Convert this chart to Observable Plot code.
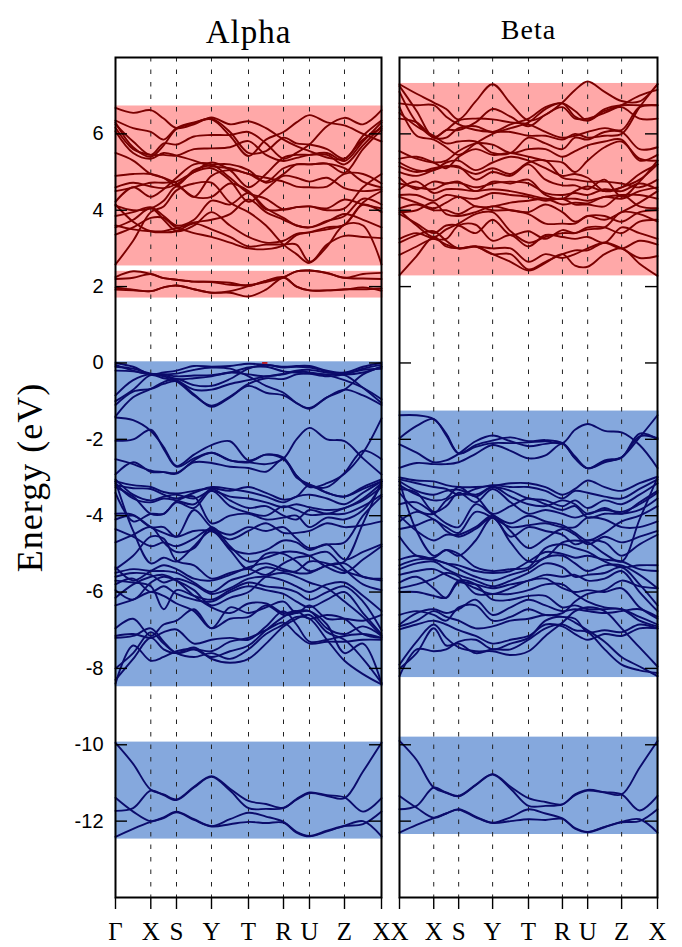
<!DOCTYPE html>
<html><head><meta charset="utf-8">
<script src="https://cdn.jsdelivr.net/npm/d3@7"></script>
<script src="https://cdn.jsdelivr.net/npm/@observablehq/plot@0.6"></script>
<style>html,body{margin:0;padding:0;background:#fff}#chart{position:relative;width:682px;height:947px}#chart svg{position:absolute;top:0;overflow:visible}.spaced text{letter-spacing:1px}</style>
</head><body><div id="chart"></div>
<script>
const kLabelsAlpha = ["Γ","X","S","Y","T","R","U","Z","X"];
const kLabelsBeta = ["X","X","S","Y","T","R","U","Z","X"];
const kPath = [0,0.1327,0.2293,0.3609,0.5,0.6316,0.7293,0.8609,1];
const energyTicks = [-12,-10,-8,-6,-4,-2,0,2,4,6];

const alphaWindows = [[2.54,6.73,"c"],[1.7,2.4,"c"],[-8.48,0.03,"v"],[-12.47,-9.93,"v"]];
const betaWindows = [[2.28,7.32,"c"],[-8.24,-1.26,"v"],[-12.35,-9.8,"v"]];

const alphaConduction = [
[6.68,6.55,6.62,6.40,6.15,6.25,6.43,6.25,6.33,6.15,5.85,5.68,5.55,5.38,5.35,5.85,6.15],
[6.35,6.15,6.05,5.85,6.15,6.30,6.38,5.95,5.42,5.85,6.05,6.30,6.49,6.30,6.22,6.00,5.80],
[6.25,5.80,5.45,5.75,5.72,5.93,5.97,5.97,6.05,5.75,5.35,5.50,5.72,6.20,6.42,6.25,6.62],
[6.16,5.60,5.45,5.45,5.43,5.60,5.62,5.65,5.81,5.45,5.29,5.37,5.45,5.50,5.29,5.80,6.30],
[6.07,5.50,5.35,5.50,5.43,5.30,5.15,5.10,4.95,4.85,4.75,4.62,4.60,4.62,4.95,4.95,4.70],
[6.30,5.65,5.40,5.70,6.13,6.28,6.40,6.05,5.50,5.55,5.90,5.75,5.72,5.60,5.35,5.95,6.35],
[5.50,5.30,4.95,4.85,4.70,4.35,4.90,5.05,4.95,4.75,5.10,5.20,5.20,5.22,5.10,4.75,4.60],
[4.90,4.95,4.95,4.85,4.65,5.05,5.18,5.20,5.05,4.72,4.95,5.20,5.20,5.22,4.98,5.60,6.10],
[4.60,4.72,4.62,4.58,4.68,5.00,5.25,5.05,4.60,4.95,5.38,5.45,5.45,5.45,5.20,5.70,6.20],
[4.50,4.60,4.72,4.72,4.75,5.00,5.10,4.78,4.22,4.55,4.90,4.85,4.75,4.85,4.58,4.50,4.55],
[4.22,4.60,4.35,4.55,4.85,5.20,5.20,4.85,4.45,4.30,4.02,4.08,4.10,4.00,4.05,4.60,4.95],
[4.12,4.00,4.05,4.25,4.62,4.35,4.35,4.70,4.50,4.02,4.02,4.08,4.10,4.05,4.28,4.15,4.05],
[3.85,3.95,4.08,3.85,3.60,3.75,4.25,4.15,4.45,4.05,3.80,3.60,3.55,3.70,3.90,3.75,3.55],
[3.55,3.75,4.05,3.75,3.45,3.60,3.95,3.60,3.30,3.15,3.20,3.38,3.42,3.55,3.62,4.20,4.50],
[3.36,3.55,3.80,3.80,3.55,3.68,3.75,3.90,4.28,3.95,3.75,3.60,3.55,3.72,3.85,4.30,4.15],
[2.58,3.20,3.95,4.10,4.52,4.70,4.72,4.20,3.95,3.60,3.10,2.85,2.62,3.10,3.33,3.30,3.27],
[4.15,3.70,3.45,3.42,3.45,3.65,3.50,3.30,3.05,3.10,3.10,3.10,2.65,3.05,3.62,3.60,2.58],
[3.60,3.50,3.45,3.45,3.52,3.40,3.30,3.15,3.00,2.98,3.08,3.35,3.42,3.50,3.62,4.15,3.95],
[2.25,2.40,2.33,2.22,2.18,2.13,2.13,2.10,2.02,2.15,2.25,2.40,2.42,2.36,2.23,2.33,2.36],
[2.20,2.23,2.33,2.22,2.18,2.13,2.12,2.05,2.04,2.12,2.24,2.40,2.42,2.35,2.23,2.21,2.20],
[1.97,1.92,1.88,1.98,2.03,1.93,1.84,1.88,2.01,2.15,2.25,2.00,1.90,1.90,1.93,1.93,1.95],
[1.92,1.90,1.88,1.98,2.03,1.93,1.84,1.84,1.74,1.92,2.23,2.00,1.90,1.90,1.92,1.98,1.89]
];
const alphaValence = [
[0,-0.10,-0.30,-0.25,-0.20,-0.08,-0.10,-0.08,-0.02,-0.05,-0.10,-0.08,-0.08,-0.20,-0.25,-0.10,0],
[-0.05,-0.20,-0.30,-0.30,-0.35,-0.33,-0.32,-0.25,-0.12,-0.10,-0.22,-0.25,-0.28,-0.35,-0.30,-0.15,-0.05],
[-1.10,-0.75,-0.68,-0.55,-0.48,-0.82,-1.15,-0.90,-0.60,-0.78,-0.85,-1.05,-1.20,-0.90,-0.70,-0.85,-1.10],
[-1.00,-0.70,-0.32,-0.40,-0.48,-0.85,-1.12,-0.88,-0.55,-0.40,-0.42,-0.30,-0.28,-0.30,-0.32,-0.65,-1.05],
[-0.85,-0.45,-0.30,-0.35,-0.45,-0.70,-0.70,-0.55,-0.45,-0.35,-0.30,-0.22,-0.25,-0.32,-0.45,-0.65,-0.95],
[-1.40,-0.90,-0.68,-0.50,-0.42,-0.58,-0.60,-0.42,-0.15,-0.05,-0.12,-0.10,-0.12,-0.22,-0.30,-0.25,-0.10],
[-0.10,-0.15,-0.28,-0.30,-0.28,-0.18,-0.12,-0.15,-0.35,-0.60,-0.78,-1.05,-1.18,-0.90,-0.70,-0.30,-0.10],
[-0.20,-0.22,-0.30,-0.32,-0.42,-0.40,-0.35,-0.25,-0.30,-0.35,-0.28,-0.20,-0.18,-0.25,-0.28,-0.18,-0.15],
[-1.43,-1.50,-1.78,-2.20,-2.70,-2.40,-2.15,-2.05,-2.55,-2.40,-2.48,-3.00,-3.18,-3.40,-3.50,-3.30,-3.10],
[-2.04,-2.00,-1.75,-2.25,-2.72,-2.50,-2.35,-2.55,-2.60,-2.65,-2.50,-2.00,-1.70,-2.00,-2.05,-2.50,-2.92],
[-2.52,-2.65,-2.82,-2.86,-2.90,-2.55,-2.35,-2.55,-2.60,-2.40,-2.52,-2.95,-3.22,-3.25,-2.88,-2.30,-2.52],
[-2.92,-2.60,-2.85,-2.86,-2.88,-2.60,-2.62,-2.72,-2.75,-2.85,-2.52,-2.95,-3.25,-3.15,-2.90,-2.35,-1.45],
[-3.10,-3.20,-3.25,-3.38,-3.42,-3.35,-3.28,-3.35,-3.25,-3.40,-3.58,-3.50,-3.20,-3.40,-3.50,-3.25,-3.05],
[-3.20,-3.28,-3.30,-3.45,-3.55,-3.40,-3.25,-3.30,-3.38,-3.50,-3.65,-3.50,-3.45,-3.55,-3.70,-3.40,-3.10],
[-3.05,-3.45,-3.60,-3.50,-3.45,-3.55,-3.35,-3.50,-3.55,-3.65,-3.78,-3.70,-3.78,-3.85,-3.80,-3.55,-3.15],
[-3.15,-3.55,-3.65,-3.55,-3.60,-3.70,-3.30,-3.60,-3.80,-3.75,-4.00,-4.10,-3.85,-3.95,-3.80,-3.60,-3.25],
[-3.25,-3.50,-3.95,-3.95,-3.65,-3.80,-3.35,-3.75,-3.92,-4.00,-3.75,-3.85,-3.98,-3.95,-3.95,-3.75,-3.45],
[-3.40,-4.15,-3.95,-3.95,-3.62,-3.50,-4.20,-4.00,-3.95,-4.10,-4.05,-4.00,-4.30,-4.05,-4.10,-3.85,-3.20],
[-3.95,-3.98,-4.30,-4.30,-4.55,-3.85,-4.30,-4.50,-4.30,-4.40,-4.30,-4.60,-4.85,-4.75,-4.70,-4.00,-3.50],
[-4.10,-4.00,-4.30,-4.45,-4.55,-4.40,-4.40,-4.62,-4.40,-4.20,-4.45,-4.45,-4.40,-4.20,-4.30,-4.25,-4.15],
[-4.35,-4.55,-4.80,-4.70,-4.80,-4.60,-4.35,-4.85,-5.00,-4.90,-4.65,-4.70,-4.90,-4.75,-5.15,-4.95,-4.75],
[-4.70,-4.50,-4.30,-4.70,-4.95,-4.85,-4.30,-4.80,-5.20,-5.10,-4.95,-4.95,-5.05,-5.35,-5.50,-5.15,-4.80],
[-3.10,-4.40,-5.25,-5.10,-5.20,-4.80,-4.40,-4.90,-5.40,-5.00,-5.00,-5.20,-5.45,-5.30,-5.20,-4.20,-3.10],
[-5.40,-5.05,-4.55,-4.60,-5.18,-5.30,-5.65,-5.50,-5.40,-5.55,-5.25,-5.10,-5.05,-4.95,-5.40,-5.80,-5.95],
[-5.35,-5.70,-5.45,-5.30,-5.40,-5.65,-5.70,-5.55,-5.35,-5.25,-5.40,-5.50,-5.50,-5.30,-5.25,-5.60,-5.65],
[-5.50,-5.40,-5.45,-5.45,-5.50,-5.75,-6.00,-5.70,-5.55,-5.35,-5.45,-5.45,-5.20,-5.25,-5.45,-5.60,-5.70],
[-5.60,-5.50,-5.55,-5.75,-5.65,-5.80,-6.05,-5.90,-5.65,-5.60,-5.70,-5.85,-6.00,-5.80,-5.75,-6.10,-6.50],
[-5.70,-5.75,-5.85,-6.45,-5.95,-6.10,-6.20,-5.95,-5.75,-5.85,-5.90,-6.00,-6.20,-6.00,-5.85,-6.25,-7.00],
[-5.80,-5.65,-6.00,-5.85,-6.05,-6.20,-6.25,-6.00,-5.85,-5.95,-6.05,-6.25,-6.40,-6.20,-6.00,-6.55,-7.10],
[-5.95,-6.20,-5.75,-5.60,-5.70,-5.95,-6.35,-6.15,-6.00,-5.60,-5.50,-5.60,-5.75,-5.90,-6.25,-6.65,-7.15],
[-6.15,-5.80,-5.60,-5.55,-5.70,-6.10,-6.40,-6.55,-6.30,-6.30,-6.55,-6.50,-6.70,-6.60,-6.70,-7.10,-7.20],
[-6.35,-6.20,-6.00,-6.10,-6.30,-6.50,-6.95,-6.40,-6.55,-6.40,-6.25,-6.55,-6.35,-6.70,-6.70,-6.75,-6.60],
[-6.95,-6.70,-7.15,-6.85,-6.75,-6.45,-6.95,-6.70,-6.65,-6.35,-6.60,-6.55,-6.50,-6.95,-7.10,-6.90,-7.15],
[-7.15,-7.10,-7.20,-7.05,-6.98,-7.35,-7.25,-7.20,-7.25,-6.90,-6.50,-6.85,-7.30,-7.25,-7.15,-7.10,-7.20],
[-7.20,-7.15,-6.95,-7.30,-7.60,-7.50,-7.55,-7.30,-7.20,-7.00,-6.80,-7.10,-7.35,-7.30,-7.30,-7.25,-7.25],
[-8.40,-7.40,-7.80,-7.70,-7.55,-7.50,-7.70,-7.55,-7.40,-7.00,-6.65,-6.50,-6.50,-6.85,-7.60,-7.35,-8.40],
[-8.30,-7.75,-7.20,-7.50,-7.60,-7.45,-7.75,-7.85,-7.75,-7.35,-6.90,-6.70,-6.60,-7.05,-7.25,-7.75,-8.38],
[-8.00,-7.60,-7.05,-7.35,-7.60,-7.70,-7.60,-7.75,-7.50,-7.10,-6.85,-6.65,-6.70,-7.25,-7.80,-8.15,-8.42],
[-9.95,-10.50,-11.18,-11.30,-11.43,-11.10,-10.82,-11.15,-11.47,-11.55,-11.65,-11.42,-11.25,-11.32,-11.38,-11.75,-11.40],
[-11.73,-11.66,-11.20,-11.32,-11.45,-11.12,-10.84,-11.20,-11.66,-11.68,-11.66,-11.44,-11.27,-11.34,-11.40,-10.70,-9.95],
[-11.39,-11.75,-12.00,-11.90,-11.75,-11.95,-12.13,-11.95,-11.78,-11.88,-12.02,-12.28,-12.39,-12.25,-12.12,-12.00,-12.40],
[-12.41,-12.20,-12.02,-11.92,-11.77,-11.97,-12.14,-12.08,-12.02,-12.05,-12.04,-12.30,-12.40,-12.27,-12.13,-12.08,-11.75]
];
const betaConduction = [
[7.30,7.05,6.82,6.65,6.38,6.85,7.30,6.80,6.35,6.50,6.82,7.15,7.37,7.10,6.86,6.85,7.30],
[7.25,6.60,5.90,6.10,6.10,6.30,6.65,6.45,6.20,6.50,6.70,6.40,6.40,6.55,6.75,7.00,7.15],
[7.10,6.30,5.92,6.10,6.35,6.40,6.38,6.30,6.25,6.05,5.90,5.95,6.05,6.15,6.10,6.70,6.75],
[6.80,6.75,6.75,6.45,6.25,6.10,6.05,6.05,5.95,5.95,5.85,6.00,5.90,5.95,6.00,6.70,7.30],
[6.40,6.30,5.90,5.90,6.15,6.20,6.05,6.25,6.40,6.70,6.80,6.60,6.35,6.60,6.70,6.40,6.40],
[6.70,5.95,5.85,5.65,5.45,5.75,6.00,6.15,6.30,6.65,6.80,6.45,6.35,6.65,6.75,6.75,6.75],
[6.55,6.20,5.95,5.75,5.80,5.80,5.50,5.50,5.90,5.75,5.60,5.90,5.85,6.05,6.05,5.60,5.65],
[5.55,5.35,5.25,5.30,5.55,5.75,5.72,5.50,5.60,5.60,5.40,5.55,5.70,5.80,5.85,5.30,5.45],
[5.35,5.40,5.25,5.10,5.40,5.60,5.45,5.50,5.40,5.30,5.25,5.00,5.30,5.65,5.80,5.35,5.30],
[5.25,5.05,5.05,5.25,5.30,5.05,5.25,5.40,5.30,5.10,4.90,4.95,4.85,4.50,4.60,4.95,5.20],
[5.15,5.00,5.10,5.15,5.12,4.95,5.10,4.95,5.25,5.30,4.85,4.80,4.75,4.75,4.70,4.60,4.80],
[5.00,4.90,5.05,5.15,5.15,4.80,5.00,4.90,5.20,4.80,4.65,4.65,4.55,4.80,4.35,4.75,5.30],
[4.85,4.55,4.75,4.70,4.75,4.50,4.75,4.70,4.80,4.40,4.30,4.50,4.62,4.50,4.60,4.80,5.20],
[4.70,4.60,4.55,4.70,4.72,4.60,4.70,4.75,4.70,4.45,4.40,4.45,4.40,4.55,4.50,4.70,4.55],
[4.55,4.75,4.45,4.55,4.55,4.50,4.55,4.50,4.40,4.30,4.30,4.30,4.25,4.35,4.40,4.40,4.30],
[4.40,4.40,4.25,4.40,4.35,4.30,4.45,4.40,4.35,4.25,4.30,4.15,4.15,4.10,4.40,4.10,4.05],
[4.35,4.20,4.05,4.20,4.35,4.10,4.10,4.20,4.25,4.30,4.15,4.20,4.18,4.35,4.30,4.50,4.60],
[4.05,4.15,4.00,4.00,3.90,4.10,4.00,4.00,3.95,4.15,3.95,3.70,3.85,3.85,3.70,3.95,4.00],
[3.95,4.00,4.20,3.90,3.85,3.95,4.10,4.00,3.90,3.65,3.65,3.65,3.85,3.75,3.95,4.20,4.50],
[4.00,3.60,3.30,3.50,3.65,3.90,3.95,3.45,3.15,3.30,3.40,3.40,3.50,3.55,3.95,3.90,3.70],
[3.90,3.65,3.40,3.60,3.60,3.40,3.75,3.35,3.45,3.25,3.48,3.40,3.55,3.55,3.40,3.70,3.75],
[3.25,3.40,3.25,3.25,3.60,3.62,3.20,3.35,3.05,3.35,3.30,3.25,3.30,3.15,3.55,3.40,3.25],
[3.15,3.35,3.45,3.20,3.00,3.05,3.00,3.00,2.65,2.85,2.75,2.85,3.00,3.15,3.00,3.20,3.10],
[2.83,3.05,3.25,3.10,3.00,3.05,2.85,2.85,2.45,2.65,2.85,2.95,2.95,3.15,3.00,2.75,2.80],
[2.30,2.80,3.30,3.05,3.00,3.05,2.85,2.65,2.42,2.62,2.85,2.55,2.52,2.85,3.00,2.60,2.28]
];
const betaValence = [
[-1.37,-1.37,-1.47,-1.85,-2.37,-2.15,-2.03,-1.95,-2.05,-2.02,-2.10,-2.50,-2.76,-2.60,-2.47,-1.95,-1.37],
[-1.97,-1.65,-1.47,-1.90,-2.37,-2.20,-2.10,-2.10,-2.08,-2.05,-2.10,-1.75,-1.60,-1.78,-1.82,-2.15,-2.75],
[-2.13,-2.35,-2.60,-2.55,-2.38,-2.05,-1.90,-2.05,-2.18,-2.12,-2.10,-2.45,-2.76,-2.55,-2.47,-1.92,-1.97],
[-2.75,-2.62,-2.65,-2.65,-2.60,-2.38,-2.15,-2.30,-2.50,-2.42,-2.12,-2.50,-2.76,-2.58,-2.48,-1.85,-2.00],
[-3.00,-3.08,-3.10,-3.20,-3.25,-3.25,-3.22,-3.15,-3.15,-3.25,-3.45,-3.30,-3.08,-3.25,-3.35,-3.15,-2.98],
[-3.05,-3.15,-3.25,-3.30,-3.45,-3.30,-3.20,-3.25,-3.25,-3.35,-3.55,-3.35,-3.40,-3.50,-3.55,-3.30,-3.05],
[-3.10,-3.35,-3.45,-3.35,-3.32,-3.45,-3.25,-3.35,-3.55,-3.60,-3.75,-3.60,-3.80,-3.60,-3.70,-3.45,-3.15],
[-3.20,-3.45,-3.60,-3.55,-3.25,-3.50,-3.25,-3.50,-3.70,-3.75,-3.60,-3.70,-3.95,-3.80,-3.95,-3.65,-3.35],
[-3.30,-3.40,-3.90,-3.75,-3.40,-3.65,-3.30,-3.65,-3.95,-3.85,-3.95,-4.05,-3.95,-3.85,-3.90,-3.70,-3.40],
[-3.40,-3.85,-3.95,-3.60,-3.45,-3.50,-3.95,-3.75,-3.55,-3.70,-3.85,-3.75,-4.05,-3.95,-3.95,-3.85,-3.55],
[-3.70,-3.65,-3.95,-4.20,-4.30,-3.70,-3.98,-4.20,-4.00,-4.15,-4.25,-4.45,-4.65,-4.45,-4.15,-4.00,-3.75],
[-4.15,-3.90,-4.10,-4.30,-4.45,-3.90,-4.05,-4.30,-4.25,-4.20,-4.30,-4.30,-4.05,-4.10,-4.30,-4.30,-4.15],
[-4.00,-4.40,-4.65,-4.50,-4.50,-4.30,-4.00,-4.40,-4.85,-4.60,-4.35,-4.50,-4.75,-4.55,-4.70,-4.55,-4.40],
[-4.35,-4.25,-4.10,-4.40,-4.55,-4.35,-4.05,-4.55,-4.30,-4.40,-4.50,-4.75,-4.65,-4.70,-5.05,-4.75,-4.50],
[-3.10,-4.40,-5.05,-4.90,-5.05,-4.65,-4.05,-4.70,-5.20,-5.10,-4.70,-4.65,-4.70,-5.00,-5.20,-4.10,-3.00],
[-4.55,-5.05,-5.10,-4.90,-5.00,-5.35,-5.45,-5.40,-5.35,-4.85,-4.75,-4.85,-4.95,-5.20,-5.35,-5.30,-5.30],
[-5.15,-5.05,-5.15,-5.25,-5.30,-5.45,-5.50,-5.45,-5.20,-4.95,-5.00,-5.10,-5.05,-5.15,-5.20,-5.40,-5.45],
[-5.30,-5.15,-5.15,-5.25,-5.40,-5.60,-5.70,-5.55,-5.40,-5.10,-5.05,-5.25,-5.45,-5.30,-5.30,-5.55,-5.90],
[-5.40,-5.25,-5.20,-5.40,-5.55,-5.70,-5.85,-5.70,-5.50,-5.25,-5.35,-5.60,-5.55,-5.50,-5.35,-5.80,-6.35],
[-5.55,-5.45,-5.40,-5.55,-5.70,-5.80,-5.90,-5.80,-5.70,-5.55,-5.60,-5.55,-5.70,-5.65,-5.45,-6.00,-6.50],
[-5.75,-5.60,-5.90,-6.15,-5.75,-5.90,-6.05,-5.90,-5.70,-5.65,-5.90,-6.00,-5.95,-6.00,-5.90,-6.40,-6.70],
[-5.90,-5.80,-5.65,-5.50,-5.60,-6.05,-6.05,-6.05,-5.95,-5.80,-5.80,-6.05,-6.25,-6.40,-6.45,-6.65,-6.85],
[-6.00,-6.00,-6.10,-6.15,-5.70,-5.80,-6.20,-6.20,-6.10,-6.10,-6.40,-6.35,-6.45,-6.45,-6.45,-6.75,-6.90],
[-6.85,-6.55,-6.45,-6.55,-6.45,-6.20,-6.60,-6.40,-6.20,-6.35,-6.50,-6.45,-6.50,-6.55,-6.50,-6.45,-6.65],
[-6.60,-6.50,-6.60,-6.75,-6.40,-6.35,-6.75,-6.65,-6.45,-6.60,-6.55,-6.25,-6.05,-5.95,-5.70,-5.85,-5.90],
[-6.90,-6.75,-6.50,-6.65,-6.75,-6.95,-6.90,-6.75,-6.70,-6.60,-6.65,-6.70,-7.05,-7.00,-7.05,-6.85,-6.95],
[-6.98,-6.85,-6.75,-6.85,-7.00,-7.15,-7.35,-7.25,-7.15,-6.85,-6.90,-7.10,-7.25,-7.10,-7.15,-6.95,-6.95],
[-8.20,-7.50,-7.55,-7.50,-7.30,-7.25,-7.50,-7.35,-7.20,-6.75,-6.65,-6.80,-7.00,-7.30,-7.70,-7.95,-8.20],
[-8.00,-7.60,-6.95,-7.40,-7.35,-7.60,-7.50,-7.50,-7.25,-6.95,-6.85,-7.00,-7.05,-7.50,-7.90,-8.05,-8.12],
[-7.90,-7.30,-6.85,-7.20,-7.45,-7.55,-7.55,-7.65,-7.55,-7.15,-6.80,-6.50,-6.40,-6.50,-6.95,-7.45,-7.95],
[-9.90,-10.40,-11.12,-11.25,-11.34,-11.05,-10.77,-11.10,-11.40,-11.50,-11.56,-11.30,-11.18,-11.24,-11.30,-11.72,-11.34],
[-11.69,-11.60,-11.12,-11.26,-11.35,-11.06,-10.78,-11.15,-11.60,-11.60,-11.56,-11.32,-11.20,-11.25,-11.30,-10.60,-9.90],
[-11.34,-11.65,-11.91,-11.80,-11.69,-11.88,-12.04,-11.90,-11.69,-11.80,-11.93,-12.18,-12.28,-12.15,-12.02,-11.95,-12.30],
[-12.30,-12.10,-11.92,-11.80,-11.70,-11.90,-12.05,-12.00,-11.95,-11.97,-11.94,-12.20,-12.29,-12.16,-12.03,-12.00,-11.69]
];
const vbmMarker = [[0.553,0.573,0.0]];

const bandColor = {c:"#ffa8a8", v:"#85a8dd"};
const lineColor = {c:"#7a0000", v:"#0b0b6b"};
const kSamples = kPath.flatMap((k,i) => i < kPath.length-1 ? [k,(k+kPath[i+1])/2] : [k]);
const toPoints = (bands,kind) => bands.flatMap((b,id) => b.map((e,i) => ({band:kind+id,k:kSamples[i],e})));

function panel({title,titleSize,titleDy,labels,windows,cond,val,left,width,marginLeft,marginRight,extra=[]}) {
  const fig = Plot.plot({
    width, height:947, marginLeft, marginRight, marginTop:57, marginBottom:50,
    style:{background:"transparent",overflow:"visible"},
    x:{domain:[0,1],axis:null},
    y:{domain:[-14,8],axis:null},
    marks:[
      Plot.rect(windows,{x1:-0.001,x2:1.006,y1:d=>d[0],y2:d=>d[1],fill:d=>bandColor[d[2]]}),
      Plot.ruleX(kPath.slice(1,-1),{stroke:"#222",strokeWidth:1,strokeDasharray:"4.5,8"}),
      Plot.line(toPoints(cond,"c"),{x:"k",y:"e",z:"band",curve:"catmull-rom",stroke:lineColor.c,strokeWidth:1.9}),
      Plot.line(toPoints(val,"v"),{x:"k",y:"e",z:"band",curve:"catmull-rom",stroke:lineColor.v,strokeWidth:1.9}),
      ...extra,
      Plot.ruleY(energyTicks,{x1:0,x2:12/(width-marginLeft-marginRight),stroke:"#000",strokeWidth:1.4}),
      Plot.ruleY(energyTicks,{x1:1-12/(width-marginLeft-marginRight),x2:1,stroke:"#000",strokeWidth:1.4}),
      Plot.frame({stroke:"#000",strokeWidth:2}),
      Plot.axisX(kPath,{anchor:"bottom",tickSize:12,tickPadding:13,stroke:"#000",strokeWidth:1.4,fontSize:25,fontFamily:"Liberation Serif",fill:"#000",label:null,
        tickFormat:(d,i)=>labels[i]}),
      Plot.text([title],{frameAnchor:"top",dy:titleDy,fontSize:titleSize,fontFamily:"Liberation Serif",fill:"#000",textAnchor:"middle",className:"spaced"})
    ]
  });
  fig.style.left = left+"px";
  return fig;
}

const chart = document.getElementById("chart");
const leftFig = panel({title:"Alpha",titleSize:33,titleDy:-38,labels:kLabelsAlpha,windows:alphaWindows,cond:alphaConduction,val:alphaValence,left:0,width:395,marginLeft:115,marginRight:14,
  extra:[
    Plot.ruleY(vbmMarker,{x1:d=>d[0],x2:d=>d[1],y:d=>d[2],stroke:"#c00000",strokeWidth:1.6}),
    Plot.axisY(energyTicks,{anchor:"left",tickSize:0,tickPadding:12,fontSize:20,fontFamily:"Liberation Sans",fill:"#000",label:null,tickFormat:d=>String(d)}),
    Plot.text(["Energy (eV)"],{frameAnchor:"left",rotate:-90,dx:-85,dy:0,fontSize:36,fontFamily:"Liberation Serif",fill:"#000",textAnchor:"middle",className:"spaced"})
  ]});
const rightFig = panel({title:"Beta",titleSize:28,titleDy:-38,labels:kLabelsBeta,windows:betaWindows,cond:betaConduction,val:betaValence,left:390,width:292,marginLeft:9,marginRight:25});
chart.append(leftFig,rightFig);
</script>
</body></html>
